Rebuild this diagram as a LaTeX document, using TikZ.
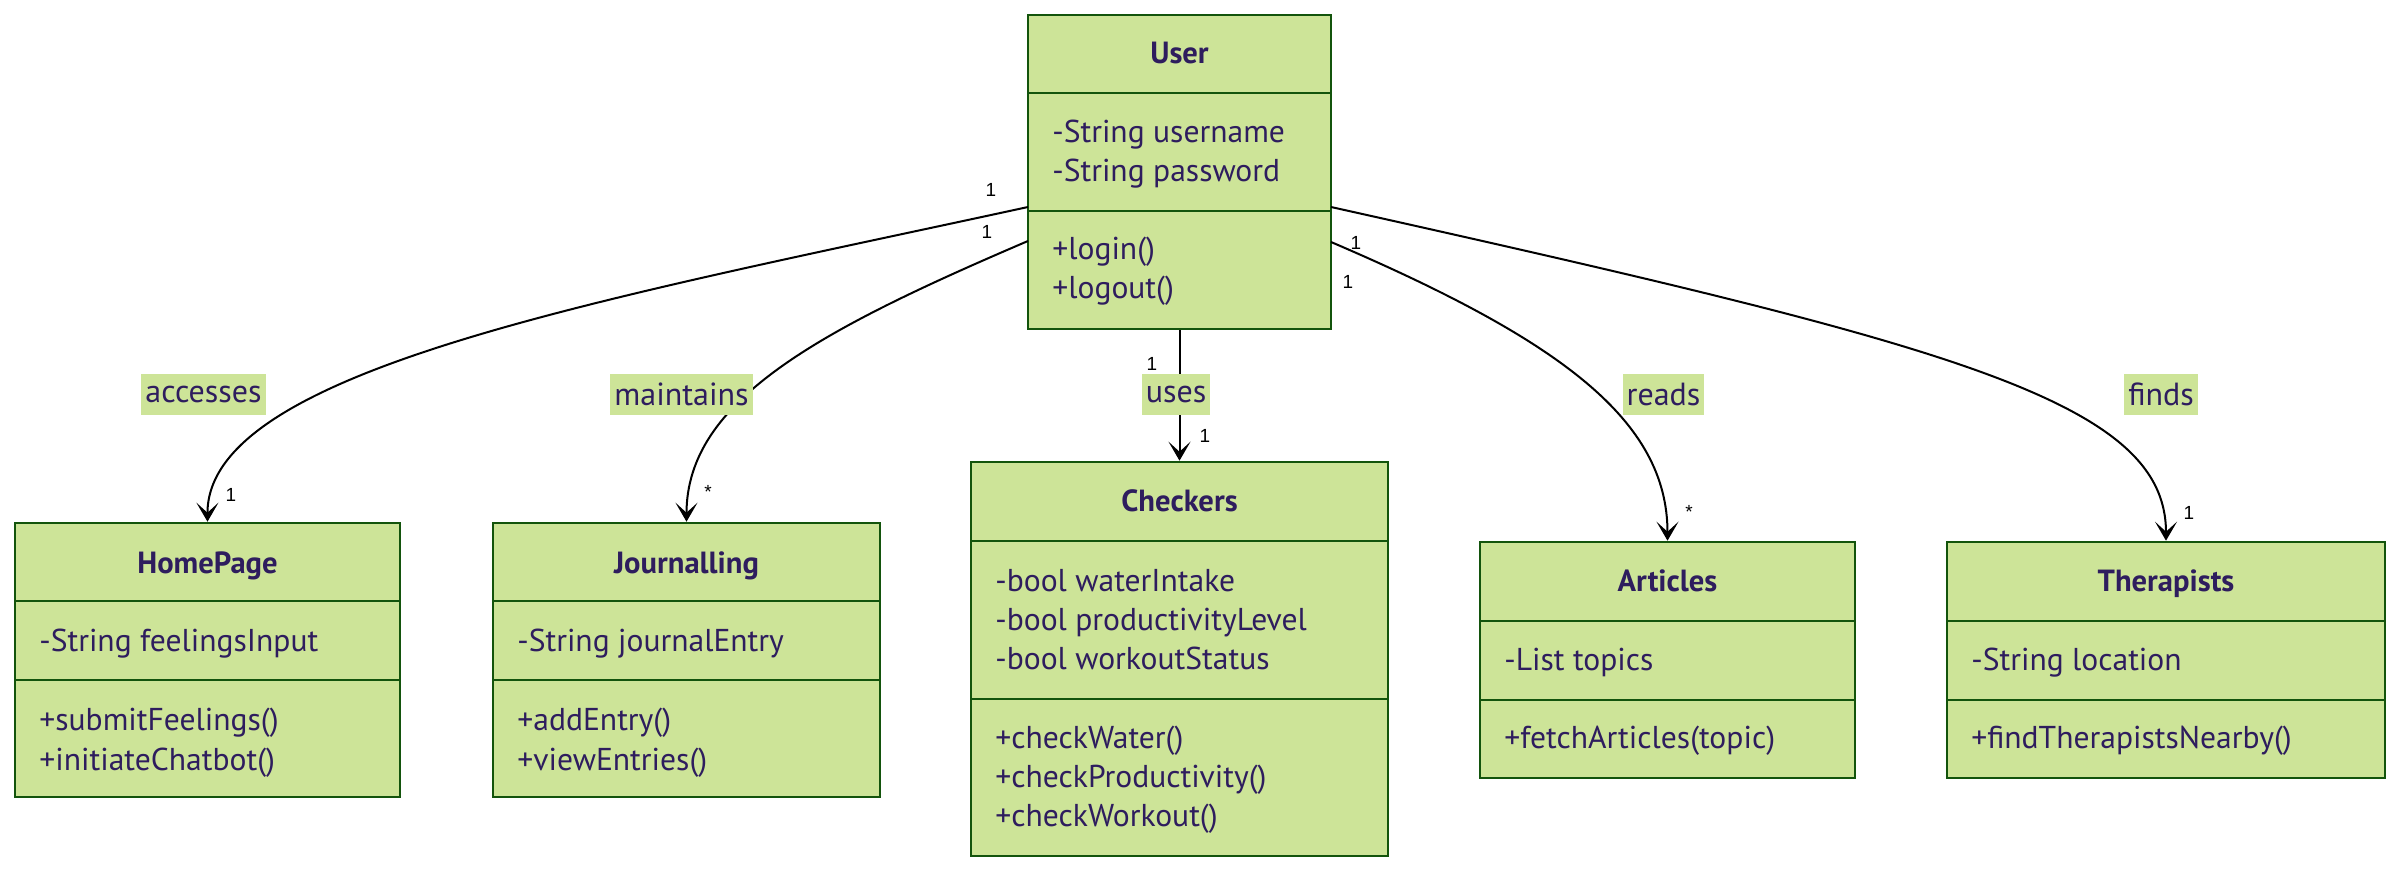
\documentclass[tikz,border=0pt]{standalone}
\usepackage{fontspec}
\setmainfont{PT Sans}
\newfontfamily\multfont{Liberation Sans}
\usetikzlibrary{arrows.meta,fit}
\definecolor{boxfill}{HTML}{CDE498}
\definecolor{boxline}{HTML}{13540C}
\definecolor{txtcol}{HTML}{2E1D5E}
\begin{document}
\begin{tikzpicture}[x=0.5pt,y=-0.5pt,
  classbox/.style={draw=boxline, fill=boxfill, line width=1.3pt, inner sep=0pt},
  divider/.style={draw=boxline, line width=1.3pt},
  member/.style={anchor=base west, inner sep=0pt, text=txtcol, font=\fontsize{15.8}{19}\selectfont},
  ctitle/.style={anchor=base, inner sep=0pt, text=txtcol, font=\fontsize{15.3}{18}\selectfont\bfseries},
  edge/.style={draw=black, line width=1pt, -{Stealth[length=9.5pt,width=11pt,inset=5pt]}},
  elabel/.style={fill=boxfill, text=txtcol, font=\fontsize{16}{19}\selectfont, inner xsep=2pt, inner ysep=0pt, minimum height=20.5pt},
  mult/.style={text=black, font=\multfont\fontsize{9.5}{10}\selectfont, inner sep=0pt}]

\useasboundingbox (0,0) rectangle (2400,872);

% ---------- User ----------
\node[classbox, fit={(1028,15) (1331,329)}] (user) {};
\draw[divider] (1028,93) -- (1331,93);
\draw[divider] (1028,211) -- (1331,211);
\node[ctitle] (userT) at (1179.5,64) {User};
\node[member] (userA1) at (1052,143) {-String username};
\node[member] (userA2) at (1052,182) {-String password};
\node[member] (userM1) at (1052,259) {+login()};
\node[member] (userM2) at (1052,298) {+logout()};

% ---------- HomePage ----------
\node[classbox, fit={(15,523) (400,797)}] (home) {};
\draw[divider] (15,601) -- (400,601);
\draw[divider] (15,680) -- (400,680);
\node[ctitle] (homeT) at (207.5,573) {HomePage};
\node[member] (homeA1) at (39,651) {-String feelingsInput};
\node[member] (homeM1) at (39,730) {+submitFeelings()};
\node[member] (homeM2) at (39,770) {+initiateChatbot()};

% ---------- Journalling ----------
\node[classbox, fit={(493,523) (880,797)}] (journal) {};
\draw[divider] (493,601) -- (880,601);
\draw[divider] (493,680) -- (880,680);
\node[ctitle] (journalT) at (686.5,573) {Journalling};
\node[member] (journalA1) at (517,651) {-String journalEntry};
\node[member] (journalM1) at (517,730) {+addEntry()};
\node[member] (journalM2) at (517,770) {+viewEntries()};

% ---------- Checkers ----------
\node[classbox, fit={(971,462) (1388,856)}] (check) {};
\draw[divider] (971,541) -- (1388,541);
\draw[divider] (971,699) -- (1388,699);
\node[ctitle] (checkT) at (1179.5,511) {Checkers};
\node[member] (checkA1) at (995,591) {-bool waterIntake};
\node[member] (checkA2) at (995,630) {-bool productivityLevel};
\node[member] (checkA3) at (995,669) {-bool workoutStatus};
\node[member] (checkM1) at (995,748) {+checkWater()};
\node[member] (checkM2) at (995,787) {+checkProductivity()};
\node[member] (checkM3) at (995,826) {+checkWorkout()};

% ---------- Articles ----------
\node[classbox, fit={(1480,542) (1855,778)}] (art) {};
\draw[divider] (1480,621) -- (1855,621);
\draw[divider] (1480,700) -- (1855,700);
\node[ctitle] (artT) at (1667.5,591) {Articles};
\node[member] (artA1) at (1504,670) {-List topics};
\node[member] (artM1) at (1504,748) {+fetchArticles(topic)};

% ---------- Therapists ----------
\node[classbox, fit={(1947,542) (2385,778)}] (ther) {};
\draw[divider] (1947,621) -- (2385,621);
\draw[divider] (1947,700) -- (2385,700);
\node[ctitle] (therT) at (2166,591) {Therapists};
\node[member] (therA1) at (1971,670) {-String location};
\node[member] (therM1) at (1971,748) {+findTherapistsNearby()};

% ---------- connectors ----------
\coordinate (uLa) at (1028,207);
\coordinate (uLb) at (1028,241);
\coordinate (uRa) at (1331,207);
\coordinate (uRb) at (1331,242);

\draw[edge] (uLa) .. controls (600,300) and (207,370) .. (home.north);
\draw[edge] (uLb) .. controls (820,330) and (686.5,400) .. (journal.north);
\draw[edge] (user.south) -- (check.north);
\draw[edge] (uRb) .. controls (1560,340) and (1667.5,420) .. (art.north);
\draw[edge] (uRa) .. controls (1950,345) and (2166,400) .. (ther.north);

% ---------- edge labels ----------
\node[elabel] (lAcc) at (203.5,394.5) {accesses};
\node[elabel] (lMnt) at (681.5,394.5) {maintains};
\node[elabel] (lUse) at (1176,394.5) {uses};
\node[elabel] (lRea) at (1663.5,394.5) {reads};
\node[elabel] (lFin) at (2161,394.5) {finds};

% ---------- multiplicities ----------
\node[mult] (m1) at (991,190) {1};
\node[mult] (m2) at (987,232) {1};
\node[mult] (m3) at (231,495) {1};
\node[mult] (m4) at (708,492) {*};
\node[mult] (m5) at (1152,364) {1};
\node[mult] (m6) at (1205,436) {1};
\node[mult] (m7) at (1356,243) {1};
\node[mult] (m8) at (1348,282) {1};
\node[mult] (m9) at (1689,512) {*};
\node[mult] (m10) at (2189,513) {1};
\end{tikzpicture}
\end{document}
